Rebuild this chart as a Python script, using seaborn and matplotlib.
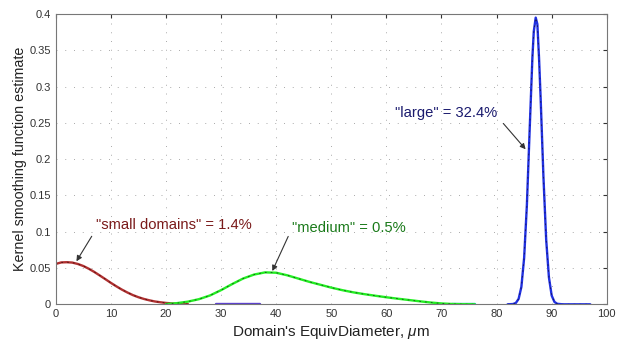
import numpy as np
import pandas as pd
import matplotlib
matplotlib.use("Agg")
import matplotlib.pyplot as plt
import seaborn as sns

# estimated curve values
small_x = [0, 1, 2, 3, 4, 5, 6, 7, 8, 9, 10, 11, 12, 13, 14, 15, 16, 17, 18, 19, 20, 21, 22, 23, 24]
small_y = [0.0556, 0.0577, 0.058, 0.0575, 0.0556, 0.0528, 0.049, 0.0446, 0.0397, 0.0347, 0.0296, 0.0248,
           0.0203, 0.0163, 0.0127, 0.0098, 0.0074, 0.0055, 0.0039, 0.0028, 0.0019, 0.0013, 0.0009, 0.0005, 0.0003]

medium_x = [20, 22, 24, 26, 28, 30, 32, 34, 36, 38, 40, 42, 44, 46, 48, 50, 52, 54, 56, 58,
            60, 62, 64, 66, 68, 70, 72, 74, 76]
medium_y = [0.0003, 0.0016, 0.0037, 0.0071, 0.0122, 0.0195, 0.0278, 0.0355, 0.041, 0.044, 0.0435,
            0.040, 0.0355, 0.031, 0.027, 0.023, 0.0195, 0.0165, 0.014, 0.0118, 0.0097, 0.0078,
            0.006, 0.0042, 0.0025, 0.0012, 0.0004, 0.0001, 0.0]

large_x = [82, 83, 83.5, 84, 84.5, 85, 85.5, 86, 86.5, 86.75, 87.1, 87.4, 87.7, 88, 88.5, 89,
           89.5, 90, 90.5, 91, 92, 94, 97]
large_y = [0.0, 0.0004, 0.0019, 0.0075, 0.024, 0.064, 0.137, 0.24, 0.34, 0.376, 0.395, 0.386,
           0.34, 0.283, 0.176, 0.089, 0.037, 0.012, 0.0033, 0.0007, 0.0, 0.0, 0.0]

tail1_x = [29, 37]
tail1_y = [0, 0]
tail2_x = [72, 76]
tail2_y = [0, 0]

x_ticks = [0, 10, 20, 30, 40, 50, 60, 70, 80, 90, 100]
y_ticks = [0, 0.05, 0.1, 0.15, 0.2, 0.25, 0.3, 0.35, 0.4]
y_tick_labels = ["0", "0.05", "0.1", "0.15", "0.2", "0.25", "0.3", "0.35", "0.4"]


def main():
    sns.set_style("white")
    plt.rcParams["font.family"] = ["Liberation Sans", "DejaVu Sans"]
    plt.rcParams["mathtext.fontset"] = "custom"
    plt.rcParams["mathtext.it"] = "Liberation Sans:italic"

    fig = plt.figure(figsize=(6.23, 3.41), dpi=100)
    ax = fig.add_axes([0.0894, 0.1076, 0.8846, 0.8514])

    curves = [
        (tail1_x, tail1_y, "#5b3fd0", None),
        (tail2_x, tail2_y, "#22c0c0", None),
        (small_x, small_y, "#b03030", "#4a1010"),
        (medium_x, medium_y, "#22ee22", "#1a4a1a"),
        (large_x, large_y, "#2030e0", "#14145a"),
    ]
    for xs, ys, col, dash in curves:
        df = pd.DataFrame({"x": xs, "y": ys})
        sns.lineplot(data=df, x="x", y="y", ax=ax, color=col, lw=1.7)
        if dash is not None:
            sns.lineplot(data=df, x="x", y="y", ax=ax, color=dash, lw=0.6,
                         linestyle=(0, (2, 5)))

    ax.set_xlim(0, 100)
    ax.set_ylim(0, 0.4)
    ax.set_xticks(x_ticks)
    ax.set_yticks(y_ticks)
    ax.set_yticklabels(y_tick_labels)
    ax.tick_params(direction="in", length=3, labelsize=8, colors="#333333",
                   top=True, right=True)
    ax.grid(True, linestyle=(0, (1, 8)), color="#aaaaaa", lw=0.7)
    for s in ax.spines.values():
        s.set_color("#777777")
        s.set_linewidth(0.8)

    ax.set_xlabel(r"Domain's EquivDiameter, $\mu$m", fontsize=11, color="#222222", labelpad=3)
    ax.set_ylabel("Kernel smoothing function estimate", fontsize=10.3, color="#222222", labelpad=2)

    arrow = dict(arrowstyle="-|>", color="#333333", lw=0.8, mutation_scale=8)
    ax.annotate('"small domains" = 1.4%', xy=(3.5, 0.056), xytext=(7.3, 0.1097),
                color="#7a1a1a", fontsize=10.6, va="center", ha="left")
    ax.annotate("", xy=(3.5, 0.056), xytext=(6.8, 0.097), arrowprops=arrow)
    ax.annotate('"medium" = 0.5%', xy=(39.1, 0.0424), xytext=(42.8, 0.1046),
                color="#1a7a1a", fontsize=10.6, va="center", ha="left")
    ax.annotate("", xy=(39.1, 0.0424), xytext=(42.4, 0.097), arrowprops=arrow)
    ax.annotate('"large" = 32.4%', xy=(85.6, 0.2107), xytext=(61.6, 0.263),
                color="#1a1a6e", fontsize=10.6, va="center", ha="left")
    ax.annotate("", xy=(85.6, 0.2107), xytext=(80.9, 0.252), arrowprops=arrow)

    fig.savefig("out.png", dpi=100)


if __name__ == "__main__":
    main()
